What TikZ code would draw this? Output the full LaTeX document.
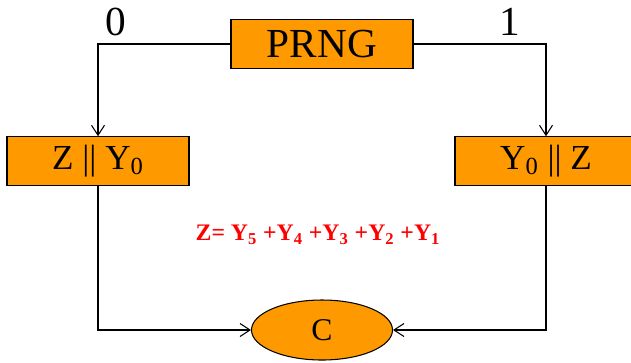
\documentclass[tikz,border=0pt]{standalone}
\usepackage{fontspec}
\setmainfont{Liberation Serif}
\usepackage{xcolor}
\usetikzlibrary{arrows.meta, positioning, shapes.geometric}

\definecolor{prngorange}{HTML}{FF9900}

\begin{document}
\begin{tikzpicture}[
    flow/.style={-{Straight Barb[length=2mm, width=2.6mm]}, line width=0.6pt},
    orangebox/.style={rectangle, draw, line width=0.6pt, fill=prngorange, minimum width=3.64cm, minimum height=0.97cm, inner sep=0pt}
]
    \useasboundingbox (0,0) rectangle (12.62,-7.24);

    % Generator on top
    \node[orangebox, font=\fontsize{23.5}{26}\selectfont] (prng) at (6.44,-0.88) {PRNG};

    % The two orderings
    \node[orangebox, font=\fontsize{20}{22}\selectfont] (z_y) at (1.96,-3.22) {Z || Y\textsubscript{0}};
    \node[orangebox, font=\fontsize{20}{22}\selectfont] (y_z) at (10.92,-3.22) {Y\textsubscript{0} || Z};
    \draw[flow] (prng.west) -| (z_y.north);
    \draw[flow] (prng.east) -| (y_z.north);

    % Bit labels
    \node[font=\fontsize{23.5}{26}\selectfont] (bit_zero) at (2.32,-0.44) {0};
    \node[font=\fontsize{23.5}{26}\selectfont] (bit_one) at (10.2,-0.44) {1};

    % Formula for Z
    \node[font=\fontsize{13.5}{15}\selectfont\bfseries, color=red] (z_sum) at (6.36,-4.7)
        {Z= Y\textsubscript{5} +Y\textsubscript{4} +Y\textsubscript{3} +Y\textsubscript{2} +Y\textsubscript{1}};

    % Output
    \node[ellipse, draw, line width=0.6pt, fill=prngorange, minimum width=2.82cm, minimum height=1.2cm, inner sep=0pt, font=\fontsize{18}{20}\selectfont] (c_out) at (6.44,-6.6) {C};
    \draw[flow] (z_y.south) |- (c_out.west);
    \draw[flow] (y_z.south) |- (c_out.east);
\end{tikzpicture}
\end{document}
